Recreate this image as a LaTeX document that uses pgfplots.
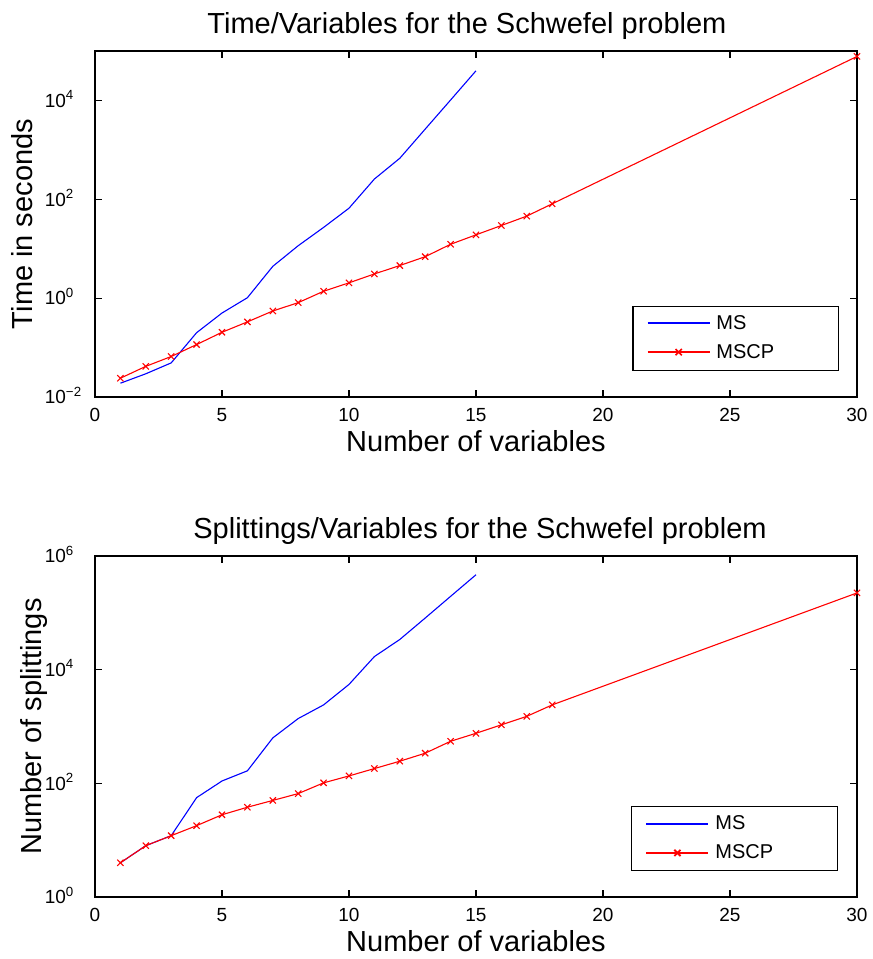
\documentclass[border=0pt]{standalone}
\usepackage{fontspec}
\setmainfont{Liberation Sans}
\usepackage{pgfplots}
\pgfplotsset{compat=1.18}

% 1px of the reference = 0.5pt
\newcommand{\ytl}[1]{\llap{10}\rlap{\textsuperscript{#1}}}
\newcommand{\tickfont}{\fontsize{9.5}{11}\selectfont}
\newcommand{\legfont}{\fontsize{10}{11}\selectfont}
\newcommand{\labfont}{\fontsize{14.5}{17}\selectfont}

\begin{document}
\begin{tikzpicture}
\path[use as bounding box] (-47.5pt,-281pt) rectangle (389pt,198.5pt);

\begin{axis}[
  at={(0pt,0pt)}, anchor=south west,
  scale only axis, width=381pt, height=173pt,
  xmin=0, xmax=30, xtick={0,5,10,15,20,25,30},
  ymode=log, ymin=1e-2, ymax=1e5,
  ytick={1e-2,1,1e2,1e4},
  yticklabels={\ytl{−2},\ytl{0},\ytl{2},\ytl{4}},
  yminorticks=false, clip=false,
  axis line style={line width=0.6pt},
  major tick style={black, line width=0.6pt},
  major tick length=3.5pt,
  tick label style={font=\tickfont},
  /pgf/number format/assume math mode=true,
  xticklabel style={anchor=base, yshift=-12pt},
  yticklabel style={anchor=base, xshift=-14.5pt, yshift=-3.4pt, inner sep=0pt},
  title={Time/Variables for the Schwefel problem},
  title style={font=\labfont, at={(0.5,1)}, anchor=base, yshift=2.8pt,
    xshift=-4.5pt},
  xlabel={Number of variables},
  xlabel style={font=\labfont, at={(0.5,0)}, anchor=base, yshift=-27.3pt},
  ylabel={Time in seconds},
  ylabel style={font=\labfont, at={(0,0.5)}, anchor=base, yshift=31pt},
  legend style={draw=black, line width=0.6pt, anchor=south east,
    at={(0.9764,0.076)}, font=\legfont, inner xsep=7pt, inner ysep=2.5pt,
    row sep=2pt},
  legend cell align=left,
  legend image code/.code={
    \draw[mark repeat=2, mark phase=2, #1, line width=0.75pt]
      plot coordinates {(0pt,0.25pt) (15.5pt,0.25pt) (31pt,0.25pt)};},
]
\addplot[blue, line width=0.55pt] coordinates {
  (1,0.019)(2,0.0295)(3,0.049)(4,0.20)(5,0.50)(6,1.02)(7,4.4)(8,11.5)
  (9,27)(10,66)(11,257)(12,676)(13,2630)(14,10200)(15,39800)};
\addlegendentry{\makebox[53pt][l]{\hspace{1pt}MS}}
\addplot[red, line width=0.55pt, mark=x, mark size=2.2pt] coordinates {
  (1,0.024)(2,0.0417)(3,0.066)(4,0.115)(5,0.204)(6,0.331)(7,0.55)(8,0.81)
  (9,1.38)(10,2.04)(11,3.09)(12,4.57)(13,6.9)(14,12.3)(15,19.1)(16,29.5)
  (17,45.7)(18,81)(30,77600)};
\addlegendentry{\makebox[53pt][l]{\hspace{1pt}MSCP}}
\end{axis}

\begin{axis}[
  at={(0pt,-250pt)}, anchor=south west,
  scale only axis, width=381pt, height=170.5pt,
  xmin=0, xmax=30, xtick={0,5,10,15,20,25,30},
  ymode=log, ymin=1, ymax=1e6,
  ytick={1,1e2,1e4,1e6},
  yticklabels={\ytl{0},\ytl{2},\ytl{4},\ytl{6}},
  yminorticks=false, clip=false,
  axis line style={line width=0.6pt},
  major tick style={black, line width=0.6pt},
  major tick length=3.5pt,
  tick label style={font=\tickfont},
  /pgf/number format/assume math mode=true,
  xticklabel style={anchor=base, yshift=-12pt},
  yticklabel style={anchor=base, xshift=-14.5pt, yshift=-3.4pt, inner sep=0pt},
  title={Splittings/Variables for the Schwefel problem},
  title style={font=\labfont, at={(0.5,1)}, anchor=base, yshift=2.7pt,
    xshift=2pt},
  xlabel={Number of variables},
  xlabel style={font=\labfont, at={(0.5,0)}, anchor=base, yshift=-27.3pt},
  ylabel={Number of splittings},
  ylabel style={font=\labfont, at={(0,0.5)}, anchor=base, yshift=26.5pt},
  legend style={draw=black, line width=0.6pt, anchor=south east,
    at={(0.975,0.0762)}, font=\legfont, inner xsep=7pt, inner ysep=2.5pt,
    row sep=2pt},
  legend cell align=left,
  legend image code/.code={
    \draw[mark repeat=2, mark phase=2, #1, line width=0.9pt]
      plot coordinates {(0pt,0pt) (15.5pt,0pt) (31pt,0pt)};},
]
\addplot[blue, line width=0.55pt] coordinates {
  (1,4)(2,8)(3,12)(4,56)(5,110)(6,166)(7,630)(8,1380)(9,2400)(10,5500)
  (11,17000)(12,34000)(13,81000)(14,195000)(15,468000)};
\addlegendentry{\makebox[53pt][l]{\hspace{1pt}MS}}
\addplot[red, line width=0.55pt, mark=x, mark size=2.2pt] coordinates {
  (1,4)(2,8)(3,12)(4,18)(5,28)(6,38)(7,50)(8,66)(9,102)(10,135)(11,182)
  (12,245)(13,339)(14,550)(15,760)(16,1070)(17,1510)(18,2400)(30,224000)};
\addlegendentry{\makebox[53pt][l]{\hspace{1pt}MSCP}}
\end{axis}
\end{tikzpicture}
\end{document}
